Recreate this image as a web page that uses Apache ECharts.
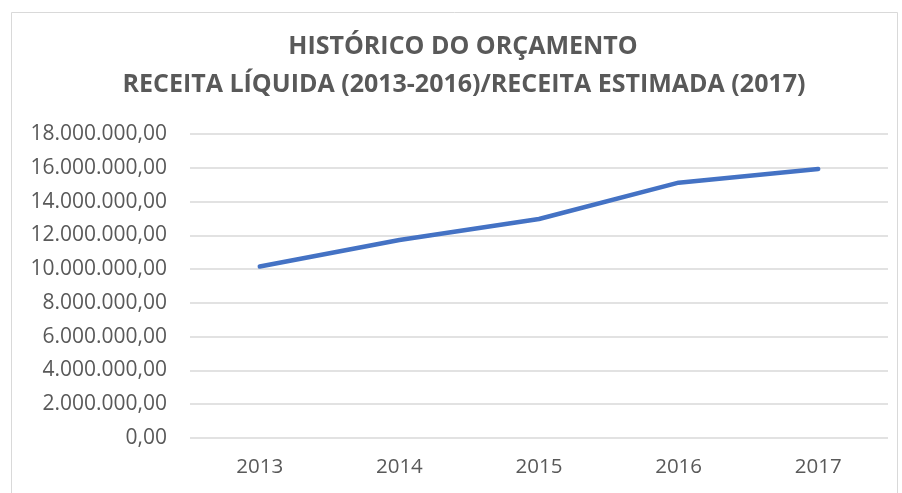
<!DOCTYPE html>
<html>
<head>
<meta charset="utf-8">
<script src="https://cdn.jsdelivr.net/npm/echarts@6/dist/echarts.min.js"></script>
<style>
  html, body { margin: 0; padding: 0; background: #fff; }
  #chart { width: 902px; height: 493px; }
</style>
</head>
<body>
<div id="chart"></div>
<script>
// dados do gráfico
const anos = ["2013", "2014", "2015", "2016", "2017"];
const receita = [10150000, 11720000, 12970000, 15120000, 15930000];
const yMin = 0;
const yMax = 18000000;
const yStep = 2000000;
const titulo = ["HISTÓRICO DO ORÇAMENTO", "RECEITA LÍQUIDA (2013-2016)/RECEITA ESTIMADA (2017)"];

// 18000000 -> "18.000.000,00"
const fmtBR = v => {
  const inteiro = Math.round(v).toString().replace(/\B(?=(\d{3})+(?!\d))/g, ".");
  return inteiro + ",00";
};

const myChart = echarts.init(document.getElementById("chart"));

const tituloStyle = {
  fontFamily: "Open Sans",
  fontWeight: "bold",
  fontSize: 25,
  fill: "#595959",
  align: "center",
  verticalAlign: "middle"
};

const option = {
  backgroundColor: "#fff",
  animation: false,
  graphic: [
    {
      type: "rect",
      shape: { x: 11.5, y: 12.5, width: 886, height: 490 },
      style: { fill: "none", stroke: "#d9d9d9", lineWidth: 1 },
      silent: true
    },
    {
      type: "text",
      x: 463,
      y: 47,
      style: Object.assign({ text: titulo[0] }, tituloStyle)
    },
    {
      type: "text",
      x: 464,
      y: 85,
      style: Object.assign({ text: titulo[1] }, tituloStyle)
    }
  ],
  grid: {
    left: 190,
    right: 14,
    top: 134,
    bottom: 55
  },
  xAxis: {
    type: "category",
    data: anos,
    boundaryGap: true,
    axisLine: { show: false },
    axisTick: { show: false },
    axisLabel: {
      margin: 19,
      color: "#595959",
      fontFamily: "Open Sans",
      fontSize: 20.5
    }
  },
  yAxis: {
    type: "value",
    min: yMin,
    max: yMax,
    interval: yStep,
    axisLine: { show: false },
    axisTick: { show: false },
    axisLabel: {
      margin: 23,
      color: "#595959",
      fontFamily: "Open Sans",
      fontSize: 21,
      formatter: fmtBR
    },
    splitLine: {
      lineStyle: { color: "#d9d9d9", width: 1.5 }
    }
  },
  series: [
    {
      name: "Receita",
      type: "line",
      data: receita,
      symbol: "none",
      smooth: false,
      lineStyle: {
        color: "#4472C4",
        width: 4.5,
        cap: "round",
        join: "round"
      }
    }
  ]
};

myChart.setOption(option);
</script>
</body>
</html>
